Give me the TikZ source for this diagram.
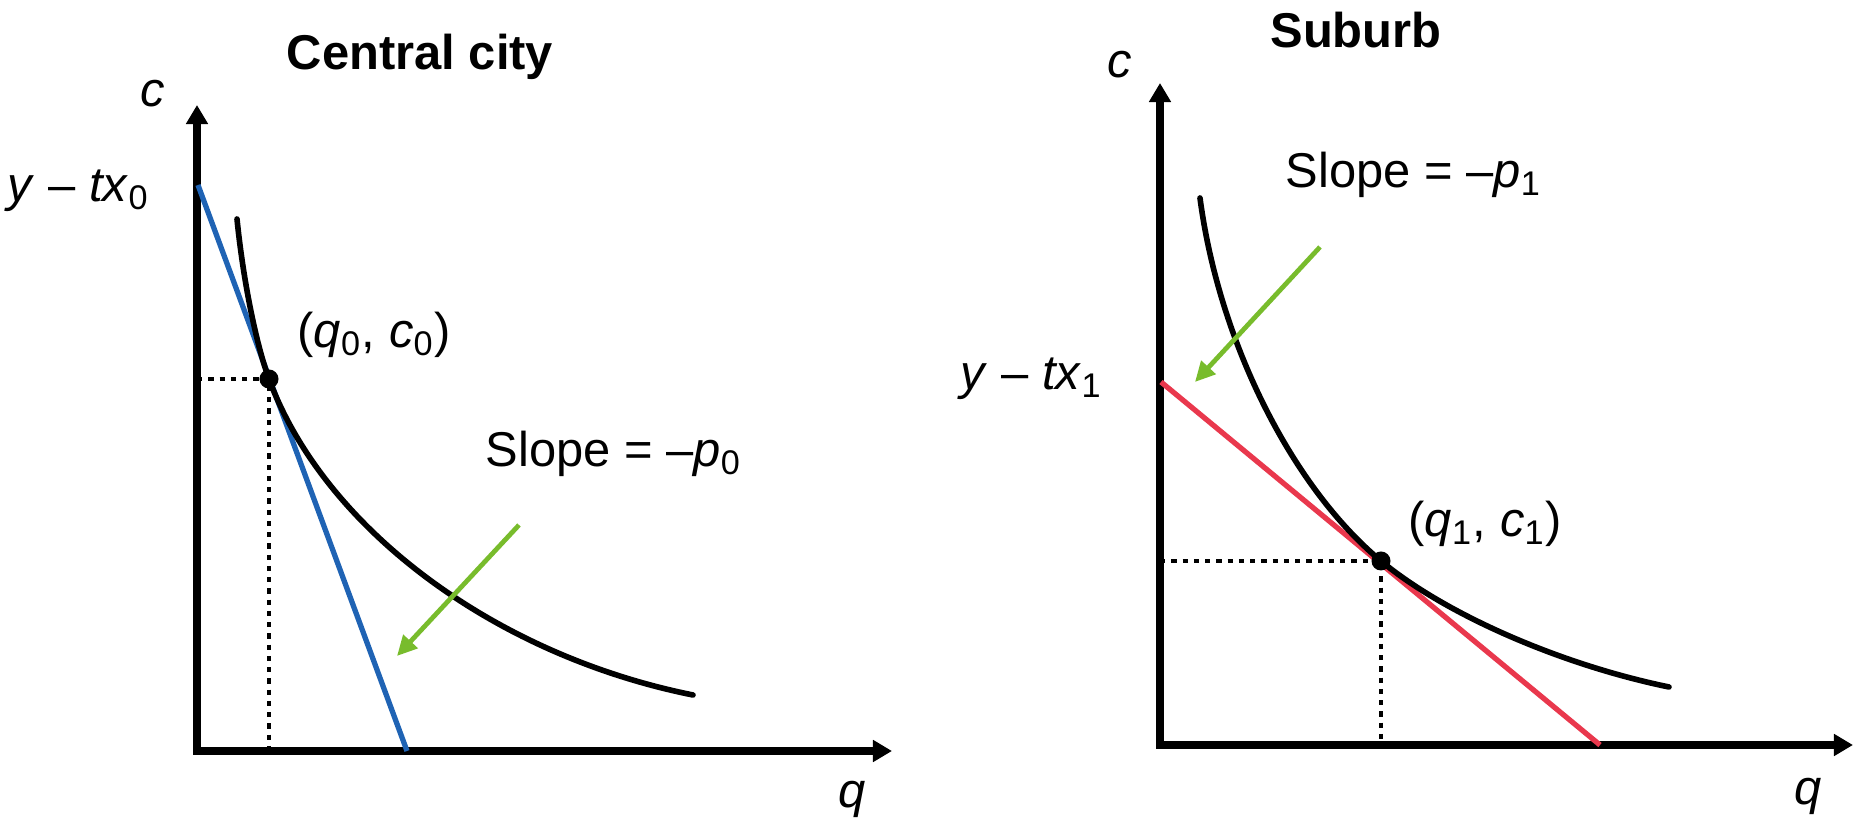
\documentclass[tikz,border=0pt]{standalone}
\usepackage{fontspec}
\setmainfont{Liberation Sans}
\usetikzlibrary{arrows.meta, positioning, calc}
\definecolor{budgetblue}{HTML}{1F63B4}
\definecolor{budgetred}{HTML}{E9384D}
\definecolor{pointergreen}{HTML}{78BC2C}

\begin{document}
\begin{tikzpicture}[x=0.01cm, y=-0.01cm,
  every node/.style={font=\fontsize{13.9}{16}\selectfont, inner sep=0pt},
  axis/.style={line width=2pt, {Triangle[length=0.19cm,width=0.21cm]}-{Triangle[length=0.19cm,width=0.21cm]}},
  indiff/.style={line width=1.6pt, line cap=round},
  budget/.style={line width=1.5pt},
  guide/.style={line width=1.4pt, dash pattern=on 1.5pt off 1.7pt},
  pointer/.style={line width=1.35pt, pointergreen, -{Triangle[length=0.2cm,width=0.19cm]}},
  tangency/.style={circle, fill=black, minimum size=0.19cm}]
  \useasboundingbox (0,0) rectangle (1862,822);

  % central city
  \coordinate (O0) at (197,751);
  \coordinate (C0) at (197,105);
  \coordinate (Q0) at (892,751);
  \draw[axis] (C0) -- (O0) -- (Q0);
  \node[anchor=base] (title0) at (420,70) {\textbf{Central city}};
  \node[anchor=base] (clab0) at (153,107) {\textit{c}};
  \node[anchor=base] (qlab0) at (852,808) {\textit{q}};
  \node[anchor=base east] (int0) at (150,202) {\textit{y} -- \textit{tx}\textsubscript{0}};
  \coordinate (B0s) at (198,185);
  \coordinate (B0e) at (407,751);
  \coordinate (T0) at (269,379);
  \draw[guide] (O0 |- T0) -- (T0) -- (T0 |- O0);
  \draw[budget, budgetblue] (B0s) -- (B0e);
  \draw[indiff] (237,219) .. controls (243,279) and (256,344) .. (T0)
    .. controls (324,528) and (494,655) .. (693,695);
  \node[tangency] (dot0) at (T0) {};
  \node[anchor=base west] (pt0) at (297,348) {(\textit{q}\textsubscript{0}, \textit{c}\textsubscript{0})};
  \node[anchor=base west] (slope0) at (485,467) {Slope = --\textit{p}\textsubscript{0}};
  \coordinate (P0s) at (519,525);
  \coordinate (P0e) at (397,656);
  \draw[pointer] (P0s) -- (P0e);

  % suburb
  \coordinate (O1) at (1160,745);
  \coordinate (C1) at (1160,83);
  \coordinate (Q1) at (1853,745);
  \draw[axis] (C1) -- (O1) -- (Q1);
  \node[anchor=base] (title1) at (1356,48) {\textbf{Suburb}};
  \node[anchor=base] (clab1) at (1120,78) {\textit{c}};
  \node[anchor=base] (qlab1) at (1808,805) {\textit{q}};
  \node[anchor=base east] (int1) at (1103,390) {\textit{y} -- \textit{tx}\textsubscript{1}};
  \coordinate (B1s) at (1161,382);
  \coordinate (B1e) at (1600,745);
  \coordinate (T1) at (1381,561);
  \draw[guide] (O1 |- T1) -- (T1) -- (T1 |- O1);
  \draw[budget, budgetred] (B1s) -- (B1e);
  \draw[indiff] (1200,198) .. controls (1219,342) and (1292,487) .. (T1)
    .. controls (1446,615) and (1562,665) .. (1669,687);
  \node[tangency] (dot1) at (T1) {};
  \node[anchor=base west] (pt1) at (1408,537) {(\textit{q}\textsubscript{1}, \textit{c}\textsubscript{1})};
  \node[anchor=base west] (slope1) at (1285,188) {Slope = --\textit{p}\textsubscript{1}};
  \coordinate (P1s) at (1320,247);
  \coordinate (P1e) at (1195,382);
  \draw[pointer] (P1s) -- (P1e);
\end{tikzpicture}
\end{document}
